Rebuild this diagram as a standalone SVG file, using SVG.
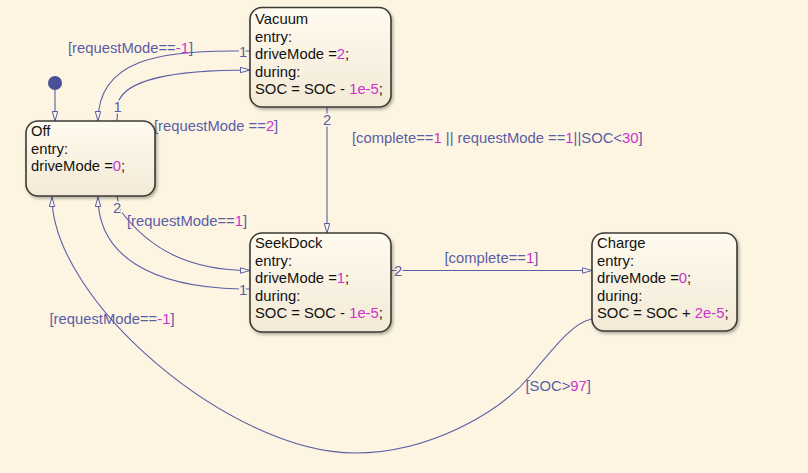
<svg xmlns="http://www.w3.org/2000/svg" width="808" height="473" viewBox="0 0 808 473">
<style>
.st{fill:url(#sg);stroke:#3c3a36;stroke-width:1.6;filter:url(#sh)}
.tx{font-family:"Liberation Sans",Arial,sans-serif;font-size:14.8px;fill:#111}
.lb{font-family:"Liberation Sans",Arial,sans-serif;font-size:14.8px;fill:#5a5ea6}
.num{fill:#cc33cc}
.cn{fill:none;stroke:#5a5ea6;stroke-width:1.1;marker-end:url(#ar)}
.on{font-family:"Liberation Sans",Arial,sans-serif;font-size:14.8px;fill:#5a5ea6;stroke:#fdf5e1;stroke-width:3;paint-order:stroke;text-anchor:middle}
</style>
<defs>
<linearGradient id="sg" x1="0" y1="0" x2="0" y2="1">
<stop offset="0" stop-color="#fffbef"/>
<stop offset="1" stop-color="#f3e9d6"/>
</linearGradient>
<filter id="sh" x="-10%" y="-10%" width="125%" height="130%">
<feDropShadow dx="1.5" dy="2" stdDeviation="1.5" flood-color="#000" flood-opacity="0.3"/>
</filter>
<marker id="ar" markerUnits="userSpaceOnUse" markerWidth="12" markerHeight="8" refX="10" refY="3.2" orient="auto">
<path d="M0.5,0.5 L10,3.2 L0.5,5.9 Z" fill="#fdf5e1" stroke="#5a5ea6" stroke-width="1"/>
</marker>
</defs>
<rect width="808" height="473" fill="#fdf5e1"/>

<g id="connectors">
<circle cx="55" cy="83" r="7" fill="#4a4f98"/>
<path class="cn" d="M55,90 L55,121"/>
<!-- Vacuum -> Off -->
<path class="cn" d="M250,51 L240,51 C160,50 98,60 98,121"/>
<!-- Off -> Vacuum -->
<path class="cn" d="M117,121 L118,103 C125,80 170,70 250,70"/>
<!-- Vacuum -> SeekDock -->
<path class="cn" d="M327,107 L327,233"/>
<!-- Off -> SeekDock -->
<path class="cn" d="M117,196 L120,210 C150,250 190,270.5 250,270.5"/>
<!-- SeekDock -> Off -->
<path class="cn" d="M250,289 L240,289 C150,287 98,255 98,197"/>
<!-- SeekDock -> Charge -->
<path class="cn" d="M391,270.5 L592,270.5"/>
<!-- Charge -> Off -->
<path class="cn" d="M592,319 C575,322 560,340 530,376 C500,412 430,453 355,453 C230,453 52,300 52,197"/>

<text class="on" x="243" y="56.5">1</text>
<text class="on" x="117.5" y="111.5">1</text>
<text class="on" x="327" y="124.5">2</text>
<text class="on" x="117" y="213">2</text>
<text class="on" x="243" y="294.5">1</text>
<text class="on" x="398" y="276">2</text>

<text class="lb" x="68" y="53">[requestMode==<tspan class="num">-1</tspan>]</text>
<text class="lb" x="154" y="131">[requestMode ==<tspan class="num">2</tspan>]</text>
<text class="lb" x="352" y="142.5">[complete==<tspan class="num">1</tspan> || requestMode ==<tspan class="num">1</tspan>||SOC&lt;<tspan class="num">30</tspan>]</text>
<text class="lb" x="127" y="225.5">[requestMode==<tspan class="num">1</tspan>]</text>
<text class="lb" x="444.5" y="262.5">[complete==<tspan class="num">1</tspan>]</text>
<text class="lb" x="49.5" y="324">[requestMode==<tspan class="num">-1</tspan>]</text>
<text class="lb" x="525.5" y="390.5">[SOC&gt;<tspan class="num">97</tspan>]</text>
</g>

<g id="Vacuum">
<rect class="st" x="250" y="7.5" width="141" height="99.5" rx="12"/>
<text class="tx" x="255" y="24">Vacuum</text>
<text class="tx" x="255" y="41.5">entry:</text>
<text class="tx" x="255" y="59">driveMode =<tspan class="num">2</tspan>;</text>
<text class="tx" x="255" y="76.5">during:</text>
<text class="tx" x="255" y="94">SOC = SOC - <tspan class="num">1e-5</tspan>;</text>
</g>

<g id="Off">
<rect class="st" x="26" y="121" width="129" height="75" rx="12"/>
<text class="tx" x="31" y="136">Off</text>
<text class="tx" x="31" y="153.5">entry:</text>
<text class="tx" x="31" y="171">driveMode =<tspan class="num">0</tspan>;</text>
</g>

<g id="SeekDock">
<rect class="st" x="250" y="233" width="141" height="99" rx="12"/>
<text class="tx" x="255" y="248">SeekDock</text>
<text class="tx" x="255" y="265.5">entry:</text>
<text class="tx" x="255" y="283">driveMode =<tspan class="num">1</tspan>;</text>
<text class="tx" x="255" y="300.5">during:</text>
<text class="tx" x="255" y="318">SOC = SOC - <tspan class="num">1e-5</tspan>;</text>
</g>

<g id="Charge">
<rect class="st" x="592" y="233" width="145" height="98" rx="12"/>
<text class="tx" x="597" y="248">Charge</text>
<text class="tx" x="597" y="265.5">entry:</text>
<text class="tx" x="597" y="283">driveMode =<tspan class="num">0</tspan>;</text>
<text class="tx" x="597" y="300.5">during:</text>
<text class="tx" x="597" y="318">SOC = SOC + <tspan class="num">2e-5</tspan>;</text>
</g>
</svg>
